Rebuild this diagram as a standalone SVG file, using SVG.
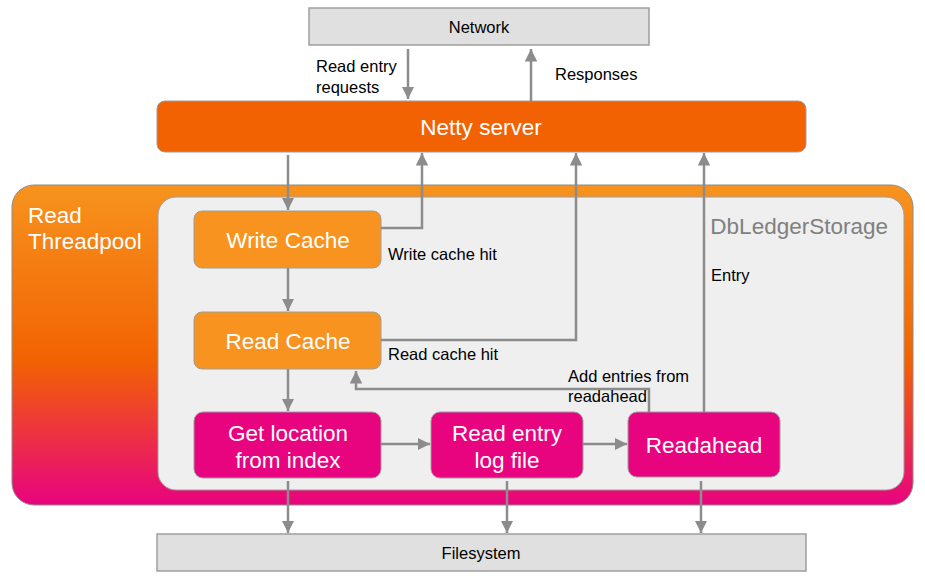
<svg xmlns="http://www.w3.org/2000/svg" width="925" height="579" viewBox="0 0 925 579">
<defs>
<linearGradient id="pool" x1="0" y1="0" x2="0" y2="1">
<stop offset="0" stop-color="#f7931e"/>
<stop offset="0.55" stop-color="#f26202"/>
<stop offset="1" stop-color="#e8037f"/>
</linearGradient>
<marker id="ah" viewBox="0 0 10 10" refX="10" refY="5" markerWidth="5" markerHeight="5" orient="auto" markerUnits="strokeWidth">
<path d="M0,0 L10,5 L0,10 z" fill="#8c8c8c"/>
</marker>
<style>
text{font-family:"Liberation Sans",Arial,sans-serif}
.gray{fill:#e0e0e0;stroke:#9e9e9e;stroke-width:1.5}
.orange{fill:#f7931e;stroke:#9e9e9e;stroke-width:1}
.pink{fill:#e8037f;stroke:#9e9e9e;stroke-width:1}
.wt{fill:#fff;font-size:22.5px;text-anchor:middle}
.lbl{fill:#000;font-size:16.5px}
.conn{fill:none;stroke:#8c8c8c;stroke-width:2.5;marker-end:url(#ah)}
</style>
</defs>
<rect width="925" height="579" fill="#fff"/>
<g id="threadpool">
<rect x="12" y="185" width="901" height="320" rx="22" fill="url(#pool)" stroke="#8c8c8c" stroke-width="1"/>
<text x="28" y="223" fill="#fff" font-size="22.5">Read</text>
<text x="28" y="249" fill="#fff" font-size="22.5">Threadpool</text>
</g>
<g id="dbledgerstorage">
<rect x="158" y="197" width="746" height="293" rx="18" fill="#efefef" stroke="#9e9e9e" stroke-width="1"/>
<text x="888" y="234" fill="#808080" font-size="22.5" text-anchor="end">DbLedgerStorage</text>
</g>
<g id="network">
<rect class="gray" x="309" y="8" width="340" height="37"/>
<text x="479" y="33" font-size="16.5" text-anchor="middle" fill="#000">Network</text>
</g>
<g id="netty">
<rect x="157" y="101" width="649" height="51" rx="8" fill="#f26202" stroke="#9e9e9e" stroke-width="1"/>
<text class="wt" x="481" y="135">Netty server</text>
</g>
<g id="filesystem">
<rect class="gray" x="157" y="534" width="649" height="37"/>
<text x="481" y="559" font-size="16.5" text-anchor="middle" fill="#000">Filesystem</text>
</g>
<g id="writecache">
<rect class="orange" x="194" y="211" width="187" height="57" rx="8"/>
<text class="wt" x="288" y="248">Write Cache</text>
</g>
<g id="readcache">
<rect class="orange" x="194" y="312" width="187" height="57" rx="8"/>
<text class="wt" x="288" y="349">Read Cache</text>
</g>
<g id="getlocation">
<rect class="pink" x="194" y="412" width="187" height="66" rx="9"/>
<text class="wt" x="288" y="441">Get location</text>
<text class="wt" x="288" y="468">from index</text>
</g>
<g id="readentry">
<rect class="pink" x="431" y="412" width="152" height="66" rx="9"/>
<text class="wt" x="507" y="441">Read entry</text>
<text class="wt" x="507" y="468">log file</text>
</g>
<g id="readahead">
<rect class="pink" x="628" y="412" width="152" height="65" rx="9"/>
<text class="wt" x="704" y="453">Readahead</text>
</g>
<g id="connectors">
<path class="conn" d="M408,49 V99"/>
<path class="conn" d="M531,101 V49"/>
<path class="conn" d="M288,155 V210"/>
<path class="conn" d="M381,228 H422 V153"/>
<path class="conn" d="M381,340 H576 V153"/>
<path class="conn" d="M704,412 V153"/>
<path class="conn" d="M649,412 V389 H356 V371"/>
<path class="conn" d="M288,268 V311"/>
<path class="conn" d="M288,369 V411"/>
<path class="conn" d="M381,444 H430"/>
<path class="conn" d="M583,444 H627"/>
<path class="conn" d="M288,481 V533"/>
<path class="conn" d="M507,481 V533"/>
<path class="conn" d="M701,481 V533"/>
<text class="lbl" x="316" y="72">Read entry</text>
<text class="lbl" x="316" y="93">requests</text>
<text class="lbl" x="555" y="80">Responses</text>
<text class="lbl" x="388" y="260">Write cache hit</text>
<text class="lbl" x="388" y="360">Read cache hit</text>
<text class="lbl" x="711" y="281">Entry</text>
<text class="lbl" x="568" y="382">Add entries from</text>
<text class="lbl" x="568" y="402">readahead</text>
</g>
</svg>
